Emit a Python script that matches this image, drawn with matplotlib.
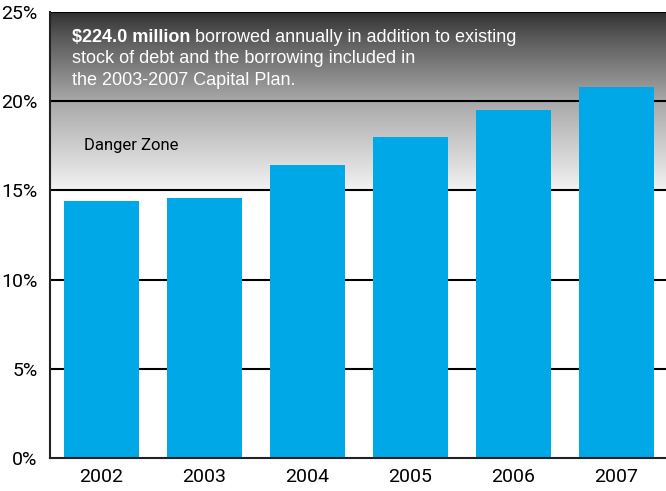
import numpy as np
import matplotlib
matplotlib.use("Agg")
import matplotlib.pyplot as plt
from matplotlib.colors import LinearSegmentedColormap

years = ["2002", "2003", "2004", "2005", "2006", "2007"]
debt_ratio = [14.4, 14.6, 16.4, 18.0, 19.5, 20.8]
y_ticks = [0, 5, 10, 15, 20, 25]
y_tick_labels = ["0%", "5%", "10%", "15%", "20%", "25%"]

BAR_COLOR = "#00a8e8"
COND = ["Roboto", "DejaVu Sans"]
SANS = ["Liberation Sans", "DejaVu Sans"]

fig = plt.figure(figsize=(6.66, 4.91), dpi=100)
ax = fig.add_axes([50 / 666, 33 / 491, 616 / 666, (458 - 12) / 491])

x = np.arange(len(years))
ax.set_xlim(-0.5, 5.48)
ax.set_ylim(0, 25)

# Danger zone: grey gradient from 15% up to 25%
grad = np.linspace(0, 1, 256).reshape(-1, 1)
cmap = LinearSegmentedColormap.from_list(
    "zone", [(0.0, "#f2f2f2"), (0.5, "#a8a8a8"), (0.85, "#5a5a5a"), (1.0, "#303030")])
ax.imshow(grad, cmap=cmap, origin="lower", aspect="auto",
          extent=[-0.5, 5.48, 15, 25], zorder=0)

for yv in [5, 10, 15, 20, 25]:
    ax.axhline(yv, color="black", lw=1.5, zorder=1)

ax.bar(x, debt_ratio, width=0.728, color=BAR_COLOR, zorder=2)

for side in ["top", "right"]:
    ax.spines[side].set_visible(False)
for side in ["left", "bottom"]:
    ax.spines[side].set_linewidth(1.5)
    ax.spines[side].set_color("#222222")

ax.set_yticks(y_ticks)
ax.set_yticklabels(y_tick_labels, family=COND, fontsize=14)
ax.set_xticks(x)
ax.set_xticklabels(years, family=COND, fontsize=14)
ax.tick_params(length=0)
ax.tick_params(axis="x", pad=7)
ax.tick_params(axis="y", pad=9)

# Annotation inside the danger zone
x0 = -0.5 + (72 - 50) / 103
fs = 13
line1_bold = ax.text(x0, 23.58, "$224.0 million", color="white", fontsize=fs,
                     family=SANS, weight="bold", va="center", ha="left", zorder=3)
fig.canvas.draw()
bb = line1_bold.get_window_extent()
x_after = ax.transData.inverted().transform((bb.x1, bb.y0))[0]
ax.text(x_after, 23.58, " borrowed annually in addition to existing",
        color="white", fontsize=fs, family=SANS, va="center", ha="left", zorder=3)
ax.text(x0, 22.4, "stock of debt and the borrowing included in",
        color="white", fontsize=fs, family=SANS, va="center", ha="left", zorder=3)
ax.text(x0, 21.17, "the 2003-2007 Capital Plan.",
        color="white", fontsize=fs, family=SANS, va="center", ha="left", zorder=3)

ax.text(-0.5 + (84 - 50) / 103, 17.54, "Danger Zone", color="black",
        fontsize=12, family=COND, va="center", ha="left", zorder=3)

fig.savefig("out.png", dpi=100, facecolor="white")
